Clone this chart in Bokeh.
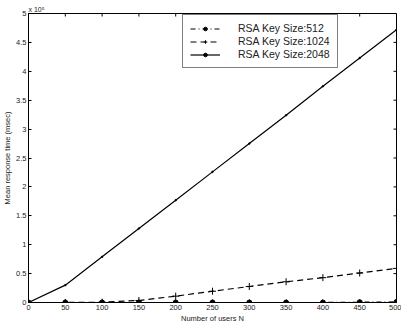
from bokeh.plotting import figure
from bokeh.models import Range1d, FixedTicker, Legend, LegendItem
from bokeh.embed import file_html
from bokeh.resources import INLINE
import math

users = [0, 50, 100, 150, 200, 250, 300, 350, 400, 450, 500]
rsa512 = [0, 0, 0, 0, 0, 0, 0, 0, 0, 0.005, 0.01]
rsa1024 = [0, 0, 0.005, 0.035, 0.11, 0.195, 0.277, 0.358, 0.43, 0.51, 0.59]
rsa2048 = [0, 0.3, 0.79, 1.28, 1.77, 2.26, 2.75, 3.24, 3.74, 4.23, 4.72]
x_ticks = [0, 50, 100, 150, 200, 250, 300, 350, 400, 450, 500]
y_ticks = [0, 0.5, 1, 1.5, 2, 2.5, 3, 3.5, 4, 4.5, 5]
y_labels = ["0", "0.5", "1", "1.5", "2", "2.5", "3", "3.5", "4", "4.5", "5"]
names = ["RSA Key Size:512", "RSA Key Size:1024", "RSA Key Size:2048"]
x_max = 500
y_max = 5

FONT = "Liberation Sans"
TXT = "#222222"

p = figure(width=401, height=324, output_backend="svg", toolbar_location=None,
           x_range=Range1d(0, x_max), y_range=Range1d(0, y_max),
           frame_width=368, frame_height=289,
           min_border_left=28, min_border_right=5, min_border_top=13, min_border_bottom=22,
           title="x 10\u2075")
p.xgrid.visible = False
p.ygrid.visible = False
p.outline_line_color = "black"
p.outline_line_width = 1
p.background_fill_color = "white"
p.border_fill_color = "white"

p.title.text_font = FONT
p.title.text_font_size = "7px"
p.title.text_font_style = "normal"
p.title.text_color = TXT
p.title.align = "left"
p.title.offset = 0
p.title.standoff = 1

for ax in (p.xaxis[0], p.yaxis[0]):
    ax.axis_line_color = "black"
    ax.major_tick_in = 3
    ax.major_tick_out = 0
    ax.minor_tick_line_color = None
    ax.major_label_text_font = FONT
    ax.major_label_text_font_size = "7.5px"
    ax.major_label_text_color = TXT
    ax.major_label_standoff = 2
    ax.axis_label_text_font = FONT
    ax.axis_label_text_font_size = "7.5px"
    ax.axis_label_text_font_style = "normal"
    ax.axis_label_text_color = TXT
    ax.axis_label_standoff = 1

p.xaxis.ticker = FixedTicker(ticks=x_ticks)
p.yaxis.ticker = FixedTicker(ticks=y_ticks)
p.yaxis.major_label_overrides = {t: l for t, l in zip(y_ticks, y_labels)}
p.xaxis.axis_label = "Number of users N"
p.yaxis.axis_label = "Mean response time (msec)"

# inward ticks on top and right edges of the box (clipped half shows inside)
p.scatter(x_ticks, [y_max] * len(x_ticks), marker="dash", angle=math.pi / 2, size=6,
          line_color="black", line_width=1)
p.scatter([x_max] * len(y_ticks), y_ticks, marker="dash", size=6,
          line_color="black", line_width=1)

r512l = p.line(users, rsa512, line_color="black", line_width=1.2, line_dash="5 3 1 3")
r512m = p.scatter(users, rsa512, marker="circle", size=5, fill_color="black", line_color="black")
r1024l = p.line(users, rsa1024, line_color="black", line_width=1.2, line_dash="6 4")
r1024m = p.scatter(users, rsa1024, marker="cross", size=7, line_color="black", line_width=1)
r2048l = p.line(users, rsa2048, line_color="black", line_width=1.2)
r2048m = p.scatter(users, rsa2048, marker="circle", size=1.5, fill_color="black", line_color="black")

legend = Legend(items=[
    LegendItem(label=names[0], renderers=[r512l, r512m]),
    LegendItem(label=names[1], renderers=[r1024l, r1024m]),
    LegendItem(label=names[2], renderers=[r2048l, r2048m]),
], location=(154, 234))
legend.label_text_font = FONT
legend.label_text_font_size = "10.5px"
legend.label_text_color = TXT
legend.glyph_width = 30
legend.glyph_height = 9
legend.label_height = 9
legend.spacing = 1
legend.padding = 7
legend.margin = 0
legend.label_standoff = 18
legend.border_line_color = "black"
legend.border_line_width = 1
legend.background_fill_color = "white"
legend.background_fill_alpha = 1
p.add_layout(legend, "center")

open("out.html", "w").write(file_html(p, INLINE))
